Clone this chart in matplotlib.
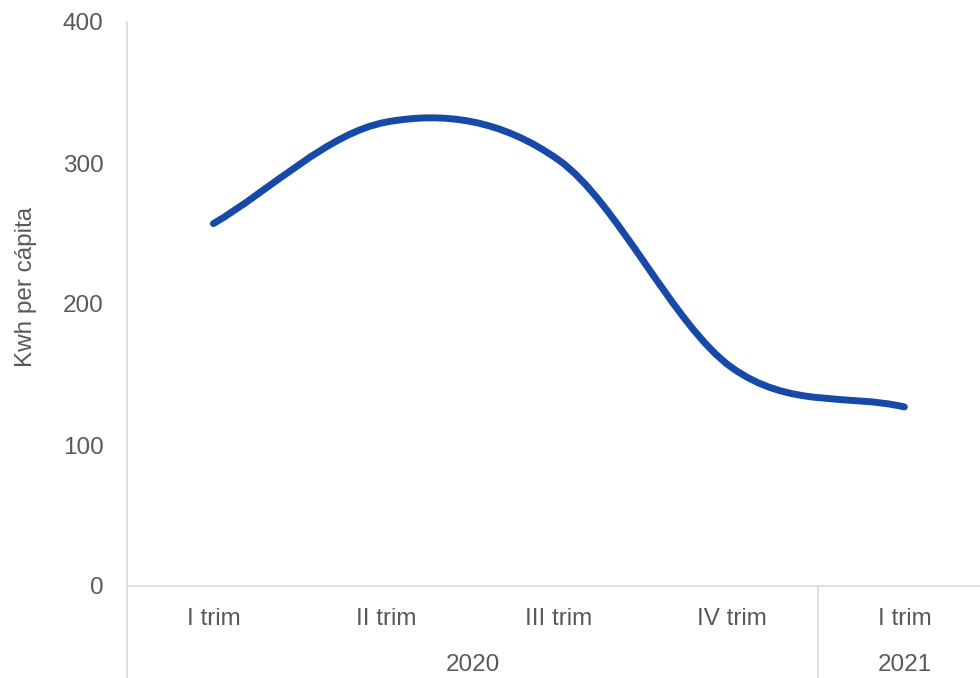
import numpy as np
import matplotlib.pyplot as plt
from matplotlib.path import Path
from matplotlib.patches import PathPatch

plt.rcParams['font.family'] = ['Liberation Sans', 'DejaVu Sans']

quarters = ["I trim", "II trim", "III trim", "IV trim", "I trim"]
years = ["2020", "2021"]
year_span = [4, 1]
kwh = [257, 329, 302, 155, 127]

yticks = [0, 100, 200, 300, 400]
line_col = "#174AA8"
txt_col = "#595959"
axis_col = "#D9D9D9"
fs = 17.5


def smooth_path(x, y):
    # Excel-like smoothed line: cubic bezier between points (catmull-rom tangents)
    x = np.asarray(x, float)
    y = np.asarray(y, float)
    n = len(x)
    verts = [(x[0], y[0])]
    codes = [Path.MOVETO]
    for i in range(n - 1):
        i0 = max(i - 1, 0)
        i3 = min(i + 2, n - 1)
        t1x = (x[i + 1] - x[i0]) / (6 if i > 0 else 3)
        t1y = (y[i + 1] - y[i0]) / (6 if i > 0 else 3)
        t2x = (x[i3] - x[i]) / (6 if i + 1 < n - 1 else 3)
        t2y = (y[i3] - y[i]) / (6 if i + 1 < n - 1 else 3)
        verts += [(x[i] + t1x, y[i] + t1y),
                  (x[i + 1] - t2x, y[i + 1] - t2y),
                  (x[i + 1], y[i + 1])]
        codes += [Path.CURVE4] * 3
    return Path(verts, codes)


fig = plt.figure(figsize=(9.8, 6.78), dpi=100)
ax = fig.add_axes([127 / 980, 92 / 678, 5 * 172.75 / 980, 564 / 678])

xs = np.arange(len(kwh))
ax.add_patch(PathPatch(smooth_path(xs, kwh), facecolor="none",
                       edgecolor=line_col, lw=5, capstyle="round",
                       joinstyle="round"))

ax.set_xlim(-0.5, len(kwh) - 0.5)
ax.set_ylim(0, 400)
ax.set_yticks(yticks)
ax.set_yticklabels([str(v) for v in yticks])
ax.tick_params(axis="y", length=0, pad=17, labelsize=fs, labelcolor=txt_col)
ax.set_xticks([])

for s in ["top", "right"]:
    ax.spines[s].set_visible(False)
ax.spines["left"].set_color(axis_col)
ax.spines["bottom"].set_color(axis_col)
ax.spines["left"].set_linewidth(1.2)
ax.spines["bottom"].set_linewidth(1.2)

ax.set_ylabel("Kwh per cápita", fontsize=fs, color=txt_col)
ax.yaxis.set_label_coords(-90 / 863.75, 0.53)

# category labels
trans = ax.get_xaxis_transform()
for i, q in enumerate(quarters):
    ax.text(i, -33 / 564, q, transform=trans, ha="center", va="center",
            fontsize=fs, color=txt_col)

# year labels and separators
start = 0
for yr, span in zip(years, year_span):
    mid = start + span / 2 - 0.5
    ax.text(mid, -79 / 564, yr, transform=trans, ha="center", va="center",
            fontsize=fs, color=txt_col)
    start += span
    ax.plot([start - 0.5, start - 0.5], [0, -92 / 564], transform=trans,
            color=axis_col, lw=1.2, clip_on=False)
ax.plot([-0.5, -0.5], [0, -92 / 564], transform=trans,
        color=axis_col, lw=1.2, clip_on=False)

fig.savefig("out.png", dpi=100)
